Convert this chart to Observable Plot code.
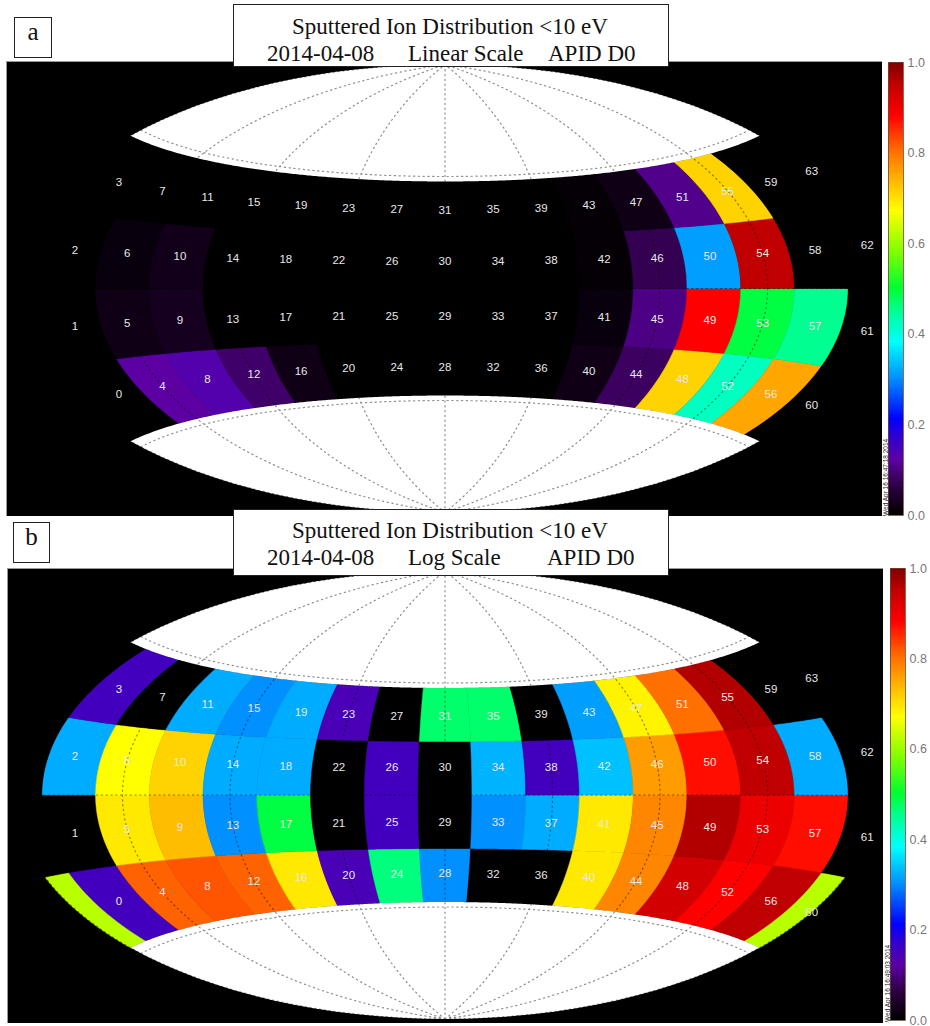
<!DOCTYPE html>
<html>
<head>
<meta charset="utf-8">
<script src="https://cdn.jsdelivr.net/npm/d3@7"></script>
<script src="https://cdn.jsdelivr.net/npm/@observablehq/plot@0.6"></script>
<style>
  html, body { margin: 0; padding: 0; background: #fff; }
  #page { position: relative; width: 930px; height: 1026px; overflow: hidden; font-family: "Liberation Serif", serif; color: #111; }
  #page svg { display: block; }
  .box { position: absolute; background: #fff; border: 1.5px solid #222; box-sizing: border-box; }
  .t { position: absolute; font-size: 23px; line-height: 24px; white-space: pre; }
  .tag { position: absolute; background: #fff; border: 1.5px solid #222; box-sizing: border-box; font-size: 25px; text-align: center; }
  .stamp { position: absolute; font: 6.5px "Liberation Sans", sans-serif; color: #222; white-space: pre; transform-origin: 0 0; transform: rotate(-90deg); }
</style>
</head>
<body>
<div id="page"></div>
<script>
// Sector values, index = sector number 0..63
const linearValues = [
  0, 0, 0, 0,            .12, .02, .012, 0,    .13, .03, .025, 0,   .085, 0, 0, 0,
  .02, 0, 0, 0,          0, 0, 0, 0,           0, 0, 0, 0,          0, 0, 0, 0,
  0, 0, 0, 0,            0, 0, 0, 0,           .02, .012, .005, .005, .08, .1, .07, .02,
  .71, .88, .31, .105,   .42, .49, .95, .71,   .75, .45, 0, 0,      0, 0, 0, 0
];
const logValues = [
  .15, 0, .32, .15,      .81, .69, .67, 0,     .82, .73, .71, .32,  .81, .3, .32, .3,
  .69, .49, .32, .32,    .14, 0, 0, .14,       .46, .15, .15, 0,    .3, 0, 0, .47,
  0, .3, .325, .47,      0, .32, .15, 0,       .69, .69, .335, .31, .78, .78, .76, .68,
  .93, .96, .87, .8,     .88, .9, .95, .96,    .95, .87, .32, 0,    .62, 0, 0, 0
];
// Sector grid
const colWidth = 22.5;
const centreCol = 7;
const latEdges = [-43, -21.5, 0, 21.5, 43];
const labelLats = [-31.5, -11, 11, 31.5];
// Graticule
const meridians = [-180, -135, -90, -45, 0, 45, 90, 135, 180];
const parallels = [-45, 0, 45];
const capLat = 43;
// Colour table
const colorStops = [0, .06, .12, .17, .21, .3, .38, .45, .5, .58, .67, .72, .8, .88, .95, 1];
const colorValues = ["#000000", "#2c0040", "#5c00a4", "#3000d0", "#0000ff", "#0090ff", "#00ffff", "#00ff90", "#00ff30", "#80ff00", "#ffff00", "#ffc800", "#ff7000", "#ff0000", "#c00000", "#7c0000"];
const colorTicks = [0, .2, .4, .6, .8, 1];
const colorScale = {type: "linear", domain: colorStops, range: colorValues};

const aitoffRaw = (lambda, phi) => {
  const c = Math.cos(phi) * Math.cos(lambda / 2);
  const a = Math.acos(Math.max(-1, Math.min(1, c)));
  const k = a < 1e-6 ? 1 : a / Math.sin(a);
  return [0.96 * 2 * Math.cos(phi) * Math.sin(lambda / 2) * k, Math.sin(phi) * k];
};

function ring(w, e, s, n) {
  const pts = [];
  const step = 1.25;
  for (let y = s; y < n; y += step) pts.push([w, y]);
  for (let x = w; x < e; x += step) pts.push([x, n]);
  for (let y = n; y > s; y -= step) pts.push([e, y]);
  for (let x = e; x > w; x -= step) pts.push([x, s]);
  pts.push([w, s]);
  return pts;
}

function makeCells(values) {
  return values.map((value, id) => {
    const col = Math.floor(id / 4), row = id % 4;
    const s = latEdges[row], n = latEdges[row + 1];
    const c = (col - centreCol) * colWidth;
    const geometry = col === 15
      ? {type: "MultiPolygon", coordinates: [[ring(c - colWidth / 2, 179.99, s, n)], [ring(-179.99, -180 + colWidth / 2, s, n)]]}
      : {type: "Polygon", coordinates: [ring(c - colWidth / 2, c + colWidth / 2, s, n)]};
    return {type: "Feature", id, value, lon: c, lat: labelLats[row], geometry};
  });
}

function graticule() {
  const lines = [];
  for (const lon of meridians) lines.push(d3.range(-90, 90.01, 2).map((lat) => [lon === 180 ? 179.99 : lon === -180 ? -179.99 : lon, lat]));
  for (const lat of parallels) lines.push(d3.range(-179.99, 180, 2).map((lon) => [lon, lat]));
  return {type: "MultiLineString", coordinates: lines};
}

function mapPlot(values, cx, cy) {
  const cells = makeCells(values);
  const projection = d3.geoProjection(aitoffRaw).scale(142.6).translate([cx, cy]).precision(0.2);
  return Plot.plot({
    width: 876, height: 455, margin: 0,
    style: {background: "#000"},
    projection,
    color: colorScale,
    marks: [
      Plot.frame({fill: "#000"}),
      Plot.geo(cells, {fill: (d) => d.value, stroke: (d) => d.value, strokeWidth: 0.5}),
      Plot.geo([d3.geoCircle().center([0, 90]).radius(90 - capLat).precision(1)(), d3.geoCircle().center([0, -90]).radius(90 - capLat).precision(1)()], {fill: "#fff"}),
      Plot.geo(graticule(), {stroke: "#000", strokeOpacity: 0.45, strokeWidth: 1.2, strokeDasharray: "1.2 3.6"}),
      Plot.text(cells, {x: "lon", y: "lat", text: (d) => String(d.id), fill: "#e8e8e8", fontSize: 11.5, fontFamily: "Liberation Sans, sans-serif"}),
      Plot.frame({stroke: "#999"})
    ]
  });
}

function colorBar(h) {
  const steps = d3.range(0, 1, 0.005);
  return Plot.plot({
    width: 42, height: h + 24, marginLeft: 0, marginRight: 27, marginTop: 12, marginBottom: 12,
    style: {background: "transparent", overflow: "visible"},
    x: {domain: [0, 1], axis: null},
    y: {domain: [0, 1], axis: null},
    color: colorScale,
    marks: [
      Plot.rect(steps, {x1: () => 0, x2: () => 1, y1: (d) => d, y2: (d) => d + 0.006, fill: (d) => d, shapeRendering: "crispEdges"}),
      Plot.axisY({anchor: "right", ticks: colorTicks, tickSize: 0, tickPadding: 4, tickFormat: ".1f", fontSize: 12.5, fill: "#777", fontFamily: "Liberation Sans, sans-serif"}),
      Plot.frame({stroke: "#6b4a30", strokeWidth: 0.8})
    ]
  });
}

const page = document.getElementById("page");
function place(el, left, top) { el.style.position = "absolute"; el.style.left = left + "px"; el.style.top = top + "px"; page.appendChild(el); }
function html(cls, left, top, w, h, text) {
  const d = document.createElement("div");
  d.className = cls;
  d.style.left = left + "px"; d.style.top = top + "px";
  if (w != null) d.style.width = w + "px";
  if (h != null) d.style.height = h + "px";
  if (text != null) d.textContent = text;
  page.appendChild(d);
  return d;
}

place(mapPlot(linearValues, 438.5, 227), 6, 61);
place(mapPlot(logValues, 437.5, 226.5), 7, 568);
place(colorBar(453), 888, 50);
place(colorBar(452), 890, 556);

html("stamp", 882, 516, null, null, "Wed Apr 16 16:47:18 2014");
html("stamp", 884, 1022, null, null, "Wed Apr 16 16:49:03 2014");

html("box", 233, 4, 436, 63);
html("t", 292, 15, null, null, "Sputtered Ion Distribution <10 eV");
html("t", 267, 42, null, null, "2014-04-08");
html("t", 408, 42, null, null, "Linear Scale");
html("t", 548, 42, null, null, "APID D0");
html("tag", 14, 17, 38, 41, "a");

html("box", 233, 509, 436, 67);
html("t", 292, 519, null, null, "Sputtered Ion Distribution <10 eV");
html("t", 267, 546, null, null, "2014-04-08");
html("t", 408, 546, null, null, "Log Scale");
html("t", 547, 546, null, null, "APID D0");
html("tag", 13, 522, 37, 41, "b");
</script>
</body>
</html>
